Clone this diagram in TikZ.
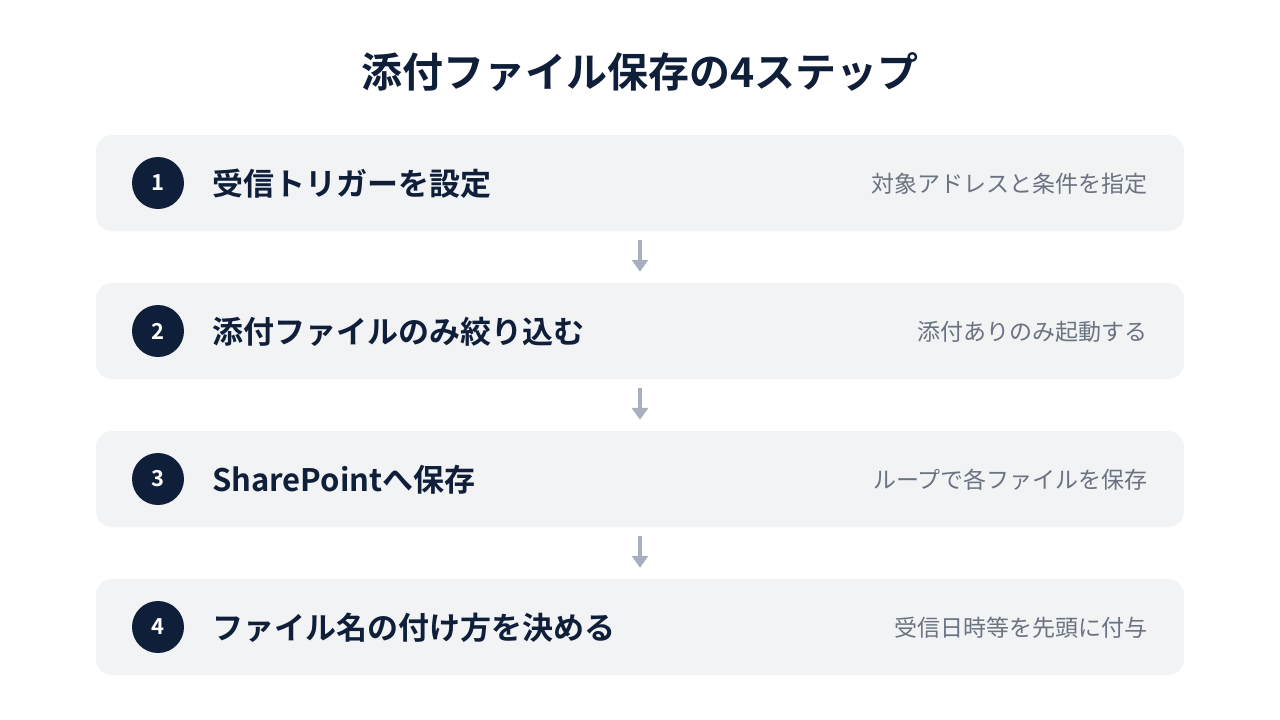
\documentclass[tikz,border=0pt]{standalone}
\usepackage{fontspec}
\setmainfont{Noto Sans CJK JP}[BoldFont={Noto Sans CJK JP Bold}]
\usetikzlibrary{arrows.meta}
\definecolor{navy}{HTML}{0F1F3A}
\definecolor{boxgray}{HTML}{F1F3F5}
\definecolor{subgray}{HTML}{6B7280}
\definecolor{arrgray}{HTML}{A8B0BE}
\tikzset{
  stepbox/.style={fill=boxgray, rounded corners=16pt, minimum width=1088pt, minimum height=96pt, inner sep=0pt},
  numcirc/.style={circle, fill=navy, minimum size=52pt, inner sep=0pt, text=white, font=\bfseries\fontsize{22}{26}\selectfont},
  maintext/.style={anchor=west, inner sep=0pt, text=navy, font=\bfseries\fontsize{31}{36}\selectfont},
  subtext/.style={anchor=east, inner sep=0pt, text=subgray, font=\fontsize{23}{27}\selectfont},
  arr/.style={draw=arrgray, line width=4pt, -{Triangle[width=16pt,length=12pt]}, shorten <=9pt, shorten >=11pt},
}
\begin{document}
\begin{tikzpicture}[x=1pt,y=-1pt]
\useasboundingbox (0,0) rectangle (1280,720);
\fill[white] (0,0) rectangle (1280,720);
\node[text=navy, font=\bfseries\fontsize{41}{48}\selectfont, inner sep=0pt] (title) at (640,72) {添付ファイル保存の4ステップ};
\node[stepbox] (b1) at (640,183) {};
\node[stepbox] (b2) at (640,331) {};
\node[stepbox] (b3) at (640,479) {};
\node[stepbox] (b4) at (640,627) {};
\node[numcirc] (c1) at (158,183) {1};
\node[numcirc] (c2) at (158,331) {2};
\node[numcirc] (c3) at (158,479) {3};
\node[numcirc] (c4) at (158,627) {4};
\node[maintext] (m1) at (212,184) {受信トリガーを設定};
\node[maintext] (m2) at (212,332) {添付ファイルのみ絞り込む};
\node[maintext] (m3) at (212,480) {SharePointへ保存};
\node[maintext] (m4) at (212,628) {ファイル名の付け方を決める};
\node[subtext] (s1) at (1148,184) {対象アドレスと条件を指定};
\node[subtext] (s2) at (1148,332) {添付ありのみ起動する};
\node[subtext] (s3) at (1148,480) {ループで各ファイルを保存};
\node[subtext] (s4) at (1148,628) {受信日時等を先頭に付与};
\draw[arr] (b1) -- (b2);
\draw[arr] (b2) -- (b3);
\draw[arr] (b3) -- (b4);
\end{tikzpicture}
\end{document}
